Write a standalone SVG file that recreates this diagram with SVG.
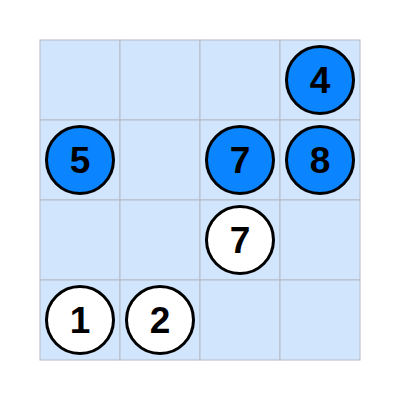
<svg xmlns="http://www.w3.org/2000/svg" width="402" height="402" viewBox="0 0 402 402">
<style>
.cell{fill:#d1e5fd;stroke:#b4bcc8;stroke-width:1}
.b{fill:#0a84ff;stroke:#000;stroke-width:3}
.w{fill:#fff;stroke:#000;stroke-width:3}
text{font-family:"Liberation Sans",Arial,sans-serif;font-weight:bold;font-size:37px;fill:#000;text-anchor:middle;dominant-baseline:central}
</style>
<rect width="402" height="402" fill="#fff"/>
<g id="grid">
<rect class="cell" x="40" y="40" width="80" height="80"/><rect class="cell" x="120" y="40" width="80" height="80"/><rect class="cell" x="200" y="40" width="80" height="80"/><rect class="cell" x="280" y="40" width="80" height="80"/>
<rect class="cell" x="40" y="120" width="80" height="80"/><rect class="cell" x="120" y="120" width="80" height="80"/><rect class="cell" x="200" y="120" width="80" height="80"/><rect class="cell" x="280" y="120" width="80" height="80"/>
<rect class="cell" x="40" y="200" width="80" height="80"/><rect class="cell" x="120" y="200" width="80" height="80"/><rect class="cell" x="200" y="200" width="80" height="80"/><rect class="cell" x="280" y="200" width="80" height="80"/>
<rect class="cell" x="40" y="280" width="80" height="80"/><rect class="cell" x="120" y="280" width="80" height="80"/><rect class="cell" x="200" y="280" width="80" height="80"/><rect class="cell" x="280" y="280" width="80" height="80"/>
</g>
<g id="n4"><circle class="b" cx="320" cy="80" r="33.5"/><text x="320" y="80.5">4</text></g>
<g id="n5"><circle class="b" cx="80" cy="160" r="33.5"/><text x="80" y="160.5">5</text></g>
<g id="n7a"><circle class="b" cx="240" cy="160" r="33.5"/><text x="240" y="160.5">7</text></g>
<g id="n8"><circle class="b" cx="320" cy="160" r="33.5"/><text x="320" y="160.5">8</text></g>
<g id="n7b"><circle class="w" cx="240" cy="240" r="33.5"/><text x="240" y="240.5">7</text></g>
<g id="n1"><circle class="w" cx="80" cy="320" r="33.5"/><text x="80" y="320.5">1</text></g>
<g id="n2"><circle class="w" cx="160" cy="320" r="33.5"/><text x="160" y="320.5">2</text></g>
<g id="connectors"></g>
</svg>
